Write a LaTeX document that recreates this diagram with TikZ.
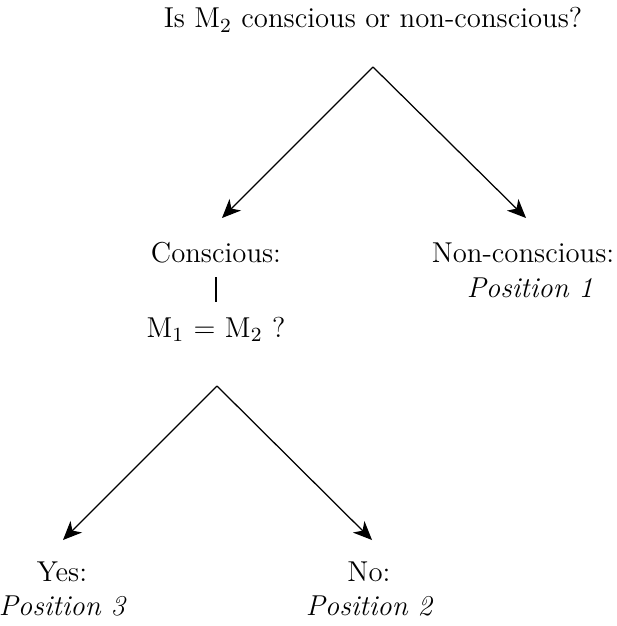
\documentclass[tikz,border=0pt]{standalone}
\usetikzlibrary{arrows.meta}
\begin{document}
\begin{tikzpicture}
  [x=0.4pt,y=-0.4pt,every node/.style={font=\fontsize{11.5}{14}\selectfont,inner sep=0pt,anchor=base}]
  \tikzstyle{branch} = [line width=0.5pt,-{Stealth[length=7.5pt,width=6.5pt,inset=2.2pt]}]
  \useasboundingbox (0,0) rectangle (616,626);
  \node (q1) at (373,28) {Is M\textsubscript{2} conscious or non-conscious?};
  \node (cons) at (216,262) {Conscious:};
  \node (noncons) at (523,262) {Non-conscious:};
  \node (pos1) at (530,297) {\itshape Position 1};
  \node (q2) at (216,337) {M\textsubscript{1} = M\textsubscript{2} ?};
  \node (yes) at (62,581) {Yes:};
  \node (pos3) at (62,615) {\itshape Position 3};
  \node (no) at (369,581) {No:};
  \node (pos2) at (369,615) {\itshape Position 2};
  \coordinate (top1) at (373,67);
  \coordinate (top2) at (217,386);
  \coordinate (tipc) at (222,218);
  \coordinate (tipn) at (526,218);
  \coordinate (tipy) at (63,540);
  \coordinate (tipo) at (372,540);
  \foreach \source/\dest in {top1/tipc,top1/tipn,top2/tipy,top2/tipo}
    \draw[branch] (\source) -- (\dest);
  \draw[line width=0.5pt,shorten <=5.6pt,shorten >=5.6pt] (cons) -- (q2);
\end{tikzpicture}
\end{document}
